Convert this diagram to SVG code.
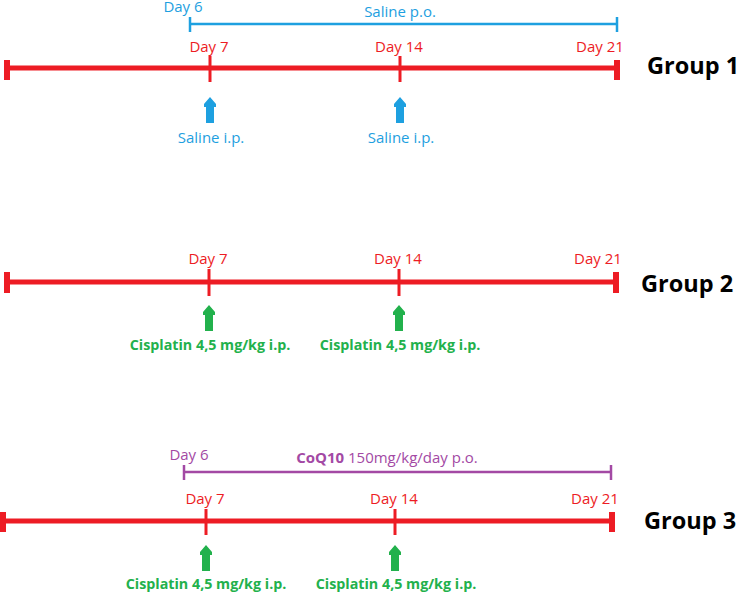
<svg xmlns="http://www.w3.org/2000/svg" width="742" height="594" viewBox="0 0 742 594">
<defs>
<style>
.red{stroke:#ed1c24;stroke-width:5;fill:none}
.cap{stroke:#ed1c24;stroke-width:6;fill:none}
.tick{stroke:#ed1c24;stroke-width:3;fill:none}
.blue{stroke:#1ea0e0;stroke-width:2.5;fill:none}
.purple{stroke:#a349a4;stroke-width:2.5;fill:none}
.t{font-family:"Open Sans","Liberation Sans",sans-serif;font-size:15px;text-anchor:middle}
.tr{fill:#ed1c24}
.tb{fill:#1ea0e0}
.tp{fill:#a349a4}
.tg{fill:#22b14c;font-weight:bold;font-size:14.3px}
.grp{font-family:"Open Sans","Liberation Sans",sans-serif;font-size:23.5px;font-weight:bold;fill:#000}
</style>
<path id="arr" d="M0,0 L6,7 L6,10 L4,10 L4,26 L-4,26 L-4,10 L-6,10 L-6,7 Z"/>
</defs>

<g id="group1">
<line class="red" x1="7" y1="68" x2="617" y2="68"/>
<line class="cap" x1="7" y1="60" x2="7" y2="80"/>
<line class="cap" x1="617" y1="60" x2="617" y2="80"/>
<line class="tick" x1="210" y1="56" x2="210" y2="82"/>
<line class="tick" x1="400" y1="56" x2="400" y2="82"/>
<text class="t tr" x="209" y="52">Day 7</text>
<text class="t tr" x="399" y="52">Day 14</text>
<text class="t tr" x="600" y="52">Day 21</text>
<line class="blue" x1="190" y1="24" x2="617" y2="24"/>
<line class="blue" x1="190" y1="17" x2="190" y2="32"/>
<line class="blue" x1="617" y1="17" x2="617" y2="32"/>
<text class="t tb" x="183" y="12">Day 6</text>
<text class="t tb" x="400" y="17">Saline p.o.</text>
<use href="#arr" x="210" y="97" fill="#1ea0e0"/>
<use href="#arr" x="400" y="97" fill="#1ea0e0"/>
<text class="t tb" x="211" y="143">Saline i.p.</text>
<text class="t tb" x="401" y="143">Saline i.p.</text>
<text class="grp" x="647" y="74">Group 1</text>
</g>

<g id="group2">
<line class="red" x1="7" y1="282" x2="616" y2="282"/>
<line class="cap" x1="7" y1="272" x2="7" y2="293"/>
<line class="cap" x1="616" y1="272" x2="616" y2="293"/>
<line class="tick" x1="209" y1="269" x2="209" y2="296"/>
<line class="tick" x1="399" y1="269" x2="399" y2="296"/>
<text class="t tr" x="208" y="264">Day 7</text>
<text class="t tr" x="398" y="264">Day 14</text>
<text class="t tr" x="598" y="264">Day 21</text>
<use href="#arr" x="209" y="305" fill="#22b14c"/>
<use href="#arr" x="399" y="305" fill="#22b14c"/>
<text class="t tg" x="210" y="350">Cisplatin 4,5 mg/kg i.p.</text>
<text class="t tg" x="400" y="350">Cisplatin 4,5 mg/kg i.p.</text>
<text class="grp" x="641" y="292">Group 2</text>
</g>

<g id="group3">
<line class="red" x1="3" y1="521" x2="612" y2="521"/>
<line class="cap" x1="3" y1="512" x2="3" y2="532"/>
<line class="cap" x1="612" y1="512" x2="612" y2="532"/>
<line class="tick" x1="206" y1="509" x2="206" y2="535"/>
<line class="tick" x1="395" y1="509" x2="395" y2="535"/>
<text class="t tr" x="205" y="504">Day 7</text>
<text class="t tr" x="394" y="504">Day 14</text>
<text class="t tr" x="595" y="504">Day 21</text>
<line class="purple" x1="184" y1="472" x2="611" y2="472"/>
<line class="purple" x1="184" y1="465" x2="184" y2="480"/>
<line class="purple" x1="611" y1="465" x2="611" y2="480"/>
<text class="t tp" x="189" y="460">Day 6</text>
<text class="t tp" x="387" y="463"><tspan font-weight="bold">CoQ10</tspan> 150mg/kg/day p.o.</text>
<use href="#arr" x="206" y="545" fill="#22b14c"/>
<use href="#arr" x="395" y="545" fill="#22b14c"/>
<text class="t tg" x="206" y="589">Cisplatin 4,5 mg/kg i.p.</text>
<text class="t tg" x="396" y="589">Cisplatin 4,5 mg/kg i.p.</text>
<text class="grp" x="644" y="529">Group 3</text>
</g>
</svg>
